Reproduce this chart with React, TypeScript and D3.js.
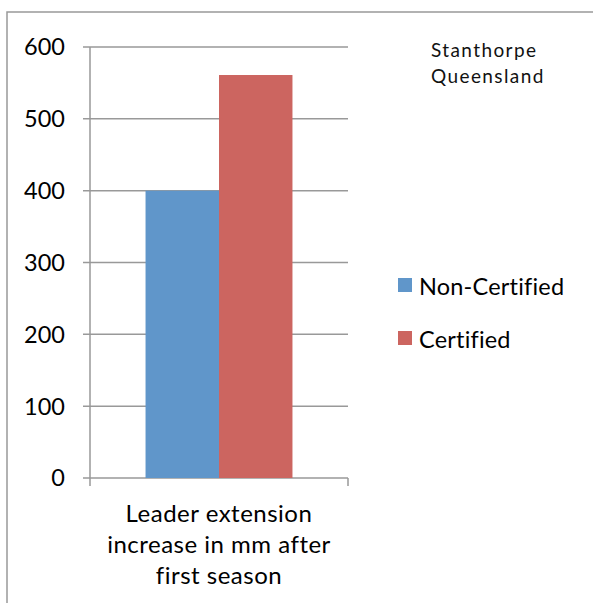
import React from 'react';
import * as d3 from 'd3';

const categories = ['Leader extension increase in mm after first season'];
const categoryLines = ['Leader extension', 'increase in mm after', 'first season'];
const series = ['Non-Certified', 'Certified'];
const values = [400, 561];
const colors = ['#6096CA', '#CC6560'];
const yTicks = [0, 100, 200, 300, 400, 500, 600];
const titleLines = ['Stanthorpe', 'Queensland'];

export default function App() {
  const width = 593;
  const height = 603;
  const margin = { top: 47, left: 90, right: 245, bottom: 125 };
  const plotRight = width - margin.right;
  const plotBottom = height - margin.bottom;

  const yScale = d3.scaleLinear().domain([0, 600]).range([plotBottom, margin.top]);
  const xGroup = d3.scaleBand()
    .domain(categories)
    .range([margin.left, plotRight])
    .paddingInner(0)
    .paddingOuter(0.378);
  const xSeries = d3.scaleBand()
    .domain(series)
    .range([0, xGroup.bandwidth()]);

  const grid = '#999999';
  const font = 'Lato, "Open Sans", sans-serif';
  const catX = (margin.left + plotRight) / 2;

  return (
    <svg width={width} height={height}
      style={{ position: 'absolute', left: 0, top: 0, background: '#fff' }}>
      {/* outer chart border, only top and left are in the picture */}
      <rect x={7} y={12} width={700} height={700} fill="none" stroke={grid} strokeWidth={1.5} />

      {/* gridlines + y ticks */}
      {yTicks.map((t) => (
        <g key={t}>
          <line x1={margin.left - 7} x2={plotRight} y1={yScale(t)} y2={yScale(t)}
            stroke={grid} strokeWidth={1.5} />
          <text x={65} y={yScale(t)} dy="0.36em" textAnchor="end"
            fontFamily={font} fontSize={23.5} fill="#000">{t}</text>
        </g>
      ))}
      <line x1={margin.left} x2={margin.left} y1={margin.top} y2={plotBottom + 8}
        stroke={grid} strokeWidth={1.5} />
      <line x1={plotRight} x2={plotRight} y1={plotBottom} y2={plotBottom + 8}
        stroke={grid} strokeWidth={1.5} />

      {/* bars */}
      {categories.map((c) => (
        <g key={c} transform={`translate(${xGroup(c)},0)`}>
          {series.map((s, i) => (
            <rect key={s} x={xSeries(s)} y={yScale(values[i])}
              width={xSeries.bandwidth()} height={plotBottom - yScale(values[i])}
              fill={colors[i]} />
          ))}
        </g>
      ))}

      {/* category label */}
      <text textAnchor="middle" fontFamily={font} fontSize={24} letterSpacing={0.5} fill="#000">
        {categoryLines.map((l, i) => (
          <tspan key={l} x={catX} y={522 + i * 31}>{l}</tspan>
        ))}
      </text>

      {/* legend */}
      {series.map((s, i) => (
        <g key={s} transform={`translate(398,${278 + i * 53})`}>
          <rect width={14} height={14} fill={colors[i]} />
          <text x={21} y={17} fontFamily={font} fontSize={23.5} letterSpacing={0.2} fill="#000">{s}</text>
        </g>
      ))}

      {/* title */}
      <text fontFamily={font} fontSize={19} letterSpacing={1.4} fill="#111">
        {titleLines.map((l, i) => (
          <tspan key={l} x={431} y={57 + i * 26}>{l}</tspan>
        ))}
      </text>
    </svg>
  );
}
